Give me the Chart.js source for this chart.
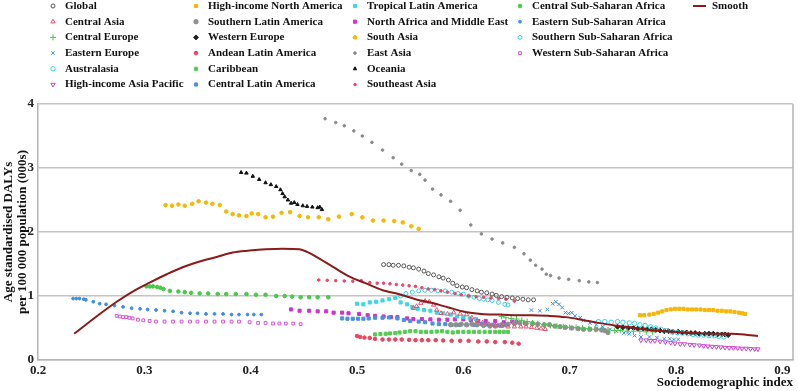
<!DOCTYPE html>
<html>
<head>
<meta charset="utf-8">
<script src="https://cdn.jsdelivr.net/npm/chart.js@4.4.0/dist/chart.umd.min.js"></script>
<style>
  html, body { margin: 0; padding: 0; background: #fff; }
</style>
</head>
<body>
<canvas id="chart" width="798" height="391"></canvas>
<script>
// values: [SDI, DALYs (000s)]
const globalPts = [[0.525,1.49],[0.530,1.49],[0.534,1.48],[0.539,1.48],[0.544,1.47],[0.549,1.45],[0.553,1.44],[0.558,1.42],[0.563,1.39],[0.567,1.35],[0.572,1.33],[0.577,1.30],[0.581,1.28],[0.586,1.25],[0.590,1.20],[0.594,1.16],[0.599,1.14],[0.603,1.13],[0.608,1.10],[0.613,1.08],[0.617,1.06],[0.622,1.05],[0.627,1.03],[0.631,1.01],[0.636,0.99],[0.641,0.98],[0.646,0.97],[0.651,0.96],[0.656,0.95],[0.661,0.94],[0.666,0.94]];
const centralAsiaPts = [[0.553,0.81],[0.556,0.84],[0.560,0.89],[0.564,0.92],[0.568,0.91],[0.572,0.86],[0.575,0.78],[0.579,0.73],[0.585,0.72],[0.591,0.74],[0.597,0.72],[0.603,0.71],[0.608,0.66],[0.613,0.61],[0.618,0.58],[0.624,0.56],[0.630,0.54],[0.636,0.53],[0.642,0.52],[0.648,0.52],[0.654,0.52],[0.659,0.52],[0.664,0.51],[0.669,0.50],[0.673,0.49],[0.677,0.48]];
const centralEuropePts = [[0.636,0.68],[0.640,0.66],[0.645,0.65],[0.650,0.64],[0.655,0.62],[0.660,0.60],[0.665,0.58],[0.670,0.57],[0.676,0.55],[0.682,0.54],[0.688,0.53],[0.694,0.52],[0.700,0.51],[0.706,0.51],[0.712,0.50],[0.718,0.49],[0.724,0.48],[0.730,0.48],[0.736,0.47],[0.742,0.46],[0.748,0.46],[0.754,0.45],[0.760,0.45],[0.766,0.45],[0.772,0.44],[0.778,0.44]];
const easternEuropePts = [[0.664,0.78],[0.672,0.77],[0.679,0.79],[0.684,0.88],[0.687,0.91],[0.690,0.87],[0.693,0.82],[0.696,0.74],[0.699,0.73],[0.702,0.74],[0.705,0.69],[0.710,0.66],[0.713,0.62],[0.719,0.58],[0.725,0.55],[0.731,0.52],[0.738,0.48],[0.744,0.45],[0.751,0.42],[0.756,0.41],[0.761,0.38],[0.767,0.36],[0.775,0.36],[0.782,0.35],[0.789,0.33],[0.794,0.33],[0.798,0.32],[0.802,0.32]];
const australasiaPts = [[0.727,0.60],[0.733,0.60],[0.739,0.59],[0.745,0.60],[0.750,0.59],[0.756,0.58],[0.761,0.57],[0.766,0.55],[0.771,0.54],[0.776,0.52],[0.781,0.50],[0.786,0.48],[0.791,0.46],[0.796,0.44],[0.801,0.43],[0.806,0.42],[0.811,0.41],[0.816,0.40],[0.821,0.39],[0.826,0.39],[0.831,0.38],[0.836,0.38],[0.840,0.37],[0.845,0.36]];
const hiAsiaPacificPts = [[0.767,0.31],[0.772,0.31],[0.776,0.30],[0.780,0.30],[0.785,0.29],[0.790,0.28],[0.795,0.27],[0.799,0.26],[0.804,0.25],[0.808,0.25],[0.813,0.24],[0.817,0.235],[0.822,0.23],[0.826,0.22],[0.830,0.215],[0.834,0.21],[0.838,0.205],[0.842,0.20],[0.846,0.195],[0.850,0.19],[0.854,0.19],[0.858,0.185],[0.862,0.18],[0.866,0.18],[0.870,0.175],[0.874,0.17],[0.877,0.17]];
const hiNorthAmericaPts = [[0.766,0.70],[0.770,0.70],[0.775,0.71],[0.779,0.72],[0.783,0.74],[0.787,0.76],[0.791,0.78],[0.795,0.79],[0.799,0.80],[0.803,0.80],[0.807,0.80],[0.811,0.79],[0.815,0.79],[0.819,0.79],[0.823,0.79],[0.827,0.78],[0.831,0.78],[0.835,0.78],[0.839,0.77],[0.843,0.77],[0.847,0.76],[0.851,0.76],[0.855,0.75],[0.859,0.74],[0.862,0.73],[0.865,0.72]];
const southernLatAmPts = [[0.588,0.55],[0.593,0.55],[0.598,0.56],[0.603,0.55],[0.608,0.56],[0.613,0.55],[0.619,0.54],[0.625,0.53],[0.630,0.53],[0.636,0.55],[0.642,0.56],[0.648,0.57],[0.653,0.58],[0.659,0.57],[0.665,0.57],[0.670,0.56],[0.676,0.55],[0.681,0.55],[0.686,0.53],[0.691,0.52],[0.696,0.51],[0.702,0.50],[0.708,0.49],[0.713,0.48],[0.719,0.48],[0.725,0.48],[0.730,0.47],[0.733,0.46],[0.736,0.43]];
const westernEuropePts = [[0.745,0.52],[0.750,0.51],[0.755,0.50],[0.760,0.50],[0.764,0.49],[0.769,0.49],[0.773,0.48],[0.777,0.48],[0.781,0.47],[0.785,0.46],[0.789,0.45],[0.793,0.45],[0.797,0.44],[0.802,0.44],[0.806,0.43],[0.810,0.43],[0.814,0.42],[0.818,0.42],[0.822,0.41],[0.827,0.41],[0.831,0.41],[0.835,0.41],[0.839,0.40],[0.843,0.40],[0.846,0.40],[0.849,0.39]];
const andeanLatAmPts = [[0.500,0.375],[0.503,0.36],[0.507,0.35],[0.512,0.345],[0.517,0.33],[0.524,0.32],[0.530,0.32],[0.536,0.32],[0.542,0.32],[0.549,0.315],[0.555,0.31],[0.561,0.31],[0.567,0.31],[0.574,0.31],[0.581,0.305],[0.589,0.30],[0.597,0.30],[0.605,0.30],[0.614,0.29],[0.622,0.29],[0.630,0.28],[0.639,0.28],[0.646,0.27],[0.652,0.255]];
const caribbeanPts = [[0.517,0.40],[0.522,0.405],[0.527,0.41],[0.531,0.415],[0.536,0.42],[0.540,0.43],[0.545,0.44],[0.550,0.45],[0.555,0.45],[0.560,0.44],[0.565,0.44],[0.570,0.44],[0.575,0.445],[0.580,0.45],[0.585,0.44],[0.590,0.43],[0.595,0.44],[0.600,0.44],[0.605,0.44],[0.610,0.44],[0.615,0.44],[0.620,0.44],[0.625,0.44],[0.630,0.44],[0.634,0.44],[0.638,0.44],[0.642,0.44]];
const centralLatAmPts = [[0.486,0.65],[0.491,0.645],[0.496,0.645],[0.501,0.645],[0.506,0.645],[0.511,0.65],[0.517,0.66],[0.524,0.66],[0.530,0.665],[0.538,0.65],[0.544,0.625],[0.550,0.61],[0.558,0.60],[0.564,0.59],[0.571,0.57],[0.577,0.56],[0.583,0.56],[0.589,0.55],[0.596,0.55],[0.603,0.55],[0.610,0.55],[0.617,0.56],[0.622,0.555],[0.627,0.55],[0.633,0.54],[0.639,0.55]];
const tropicalLatAmPts = [[0.500,0.88],[0.506,0.87],[0.512,0.90],[0.518,0.91],[0.524,0.93],[0.530,0.95],[0.536,0.97],[0.541,0.90],[0.547,0.87],[0.552,0.83],[0.557,0.80],[0.563,0.78],[0.569,0.77],[0.575,0.74],[0.581,0.73],[0.588,0.71],[0.594,0.68],[0.600,0.67],[0.606,0.65],[0.612,0.64]];
const northAfricaMEPts = [[0.438,0.79],[0.446,0.77],[0.455,0.77],[0.463,0.76],[0.471,0.76],[0.478,0.74],[0.486,0.74],[0.492,0.73],[0.502,0.72],[0.510,0.70],[0.517,0.69],[0.525,0.68],[0.532,0.67],[0.538,0.67],[0.547,0.65],[0.553,0.64],[0.561,0.64],[0.569,0.635],[0.577,0.63],[0.585,0.63],[0.592,0.635],[0.600,0.635],[0.607,0.62],[0.614,0.61],[0.621,0.61],[0.630,0.61],[0.638,0.59],[0.646,0.60],[0.650,0.59],[0.658,0.58]];
const southAsiaPts = [[0.320,2.42],[0.326,2.41],[0.332,2.43],[0.338,2.41],[0.345,2.44],[0.351,2.48],[0.358,2.46],[0.364,2.44],[0.371,2.42],[0.377,2.32],[0.383,2.28],[0.389,2.26],[0.396,2.25],[0.401,2.29],[0.407,2.28],[0.414,2.23],[0.421,2.24],[0.429,2.30],[0.437,2.31],[0.446,2.25],[0.454,2.23],[0.464,2.23],[0.473,2.20],[0.483,2.24],[0.495,2.28],[0.505,2.23],[0.515,2.18],[0.525,2.18],[0.535,2.17],[0.543,2.15],[0.551,2.09],[0.558,2.05]];
const eastAsiaPts = [[0.470,3.77],[0.480,3.71],[0.488,3.66],[0.497,3.58],[0.505,3.50],[0.514,3.40],[0.524,3.28],[0.534,3.16],[0.542,3.06],[0.551,2.96],[0.559,2.90],[0.564,2.81],[0.571,2.67],[0.579,2.58],[0.588,2.48],[0.597,2.34],[0.607,2.11],[0.617,1.97],[0.627,1.89],[0.637,1.83],[0.648,1.76],[0.657,1.66],[0.663,1.56],[0.668,1.48],[0.674,1.42],[0.678,1.34],[0.682,1.32],[0.690,1.28],[0.699,1.26],[0.709,1.24],[0.718,1.22],[0.726,1.21]];
const oceaniaPts = [[0.391,2.93],[0.396,2.92],[0.402,2.87],[0.408,2.82],[0.414,2.77],[0.419,2.74],[0.424,2.71],[0.428,2.66],[0.430,2.60],[0.432,2.55],[0.435,2.50],[0.438,2.45],[0.441,2.46],[0.444,2.43],[0.449,2.41],[0.453,2.40],[0.458,2.39],[0.463,2.38],[0.465,2.39],[0.467,2.35]];
const southeastAsiaPts = [[0.464,1.25],[0.472,1.245],[0.480,1.24],[0.488,1.235],[0.496,1.23],[0.504,1.24],[0.512,1.21],[0.519,1.20],[0.525,1.20],[0.531,1.19],[0.537,1.18],[0.543,1.17],[0.549,1.16],[0.555,1.15],[0.561,1.13],[0.567,1.11],[0.573,1.10],[0.579,1.08],[0.585,1.06],[0.592,1.04],[0.598,1.02],[0.605,1.00],[0.612,0.99],[0.619,0.98],[0.626,0.97],[0.633,0.96],[0.640,0.95],[0.648,0.92]];
const centralSSAPts = [[0.302,1.15],[0.305,1.15],[0.308,1.15],[0.312,1.14],[0.315,1.13],[0.318,1.11],[0.324,1.08],[0.332,1.07],[0.338,1.06],[0.344,1.05],[0.352,1.04],[0.360,1.04],[0.369,1.03],[0.377,1.03],[0.386,1.03],[0.396,1.03],[0.405,1.02],[0.414,1.02],[0.424,1.00],[0.432,1.00],[0.439,0.99],[0.447,0.98],[0.455,0.98],[0.463,0.98],[0.473,0.98]];
const easternSSAPts = [[0.233,0.96],[0.236,0.96],[0.239,0.96],[0.243,0.95],[0.245,0.94],[0.252,0.91],[0.258,0.88],[0.264,0.87],[0.272,0.85],[0.280,0.83],[0.288,0.81],[0.296,0.80],[0.303,0.79],[0.311,0.78],[0.319,0.77],[0.327,0.76],[0.335,0.74],[0.343,0.73],[0.350,0.73],[0.358,0.72],[0.366,0.72],[0.374,0.72],[0.382,0.71],[0.389,0.71],[0.397,0.71],[0.403,0.71],[0.410,0.71]];
const southernSSAPts = [[0.541,1.00],[0.546,1.04],[0.552,1.06],[0.558,1.08],[0.564,1.09],[0.570,1.09],[0.576,1.08],[0.583,1.08],[0.589,1.06],[0.595,1.04],[0.600,1.03],[0.605,1.00],[0.610,0.98],[0.615,0.96],[0.619,0.95],[0.623,0.94],[0.627,0.93],[0.633,0.90],[0.639,0.87],[0.642,0.86]];
const westernSSAPts = [[0.274,0.69],[0.277,0.68],[0.280,0.67],[0.283,0.67],[0.286,0.66],[0.289,0.65],[0.294,0.63],[0.299,0.62],[0.305,0.61],[0.311,0.60],[0.319,0.60],[0.327,0.60],[0.335,0.60],[0.343,0.60],[0.350,0.60],[0.358,0.60],[0.366,0.60],[0.374,0.60],[0.382,0.60],[0.389,0.60],[0.399,0.59],[0.407,0.58],[0.414,0.58],[0.421,0.57],[0.427,0.57],[0.433,0.57],[0.440,0.57],[0.447,0.56]];
const smoothPts = [[0.234,0.41],[0.255,0.68],[0.274,0.91],[0.289,1.07],[0.305,1.21],[0.321,1.34],[0.336,1.45],[0.352,1.54],[0.368,1.61],[0.383,1.68],[0.399,1.71],[0.414,1.73],[0.430,1.74],[0.446,1.73],[0.453,1.69],[0.461,1.62],[0.477,1.46],[0.492,1.31],[0.508,1.20],[0.524,1.09],[0.539,1.03],[0.555,0.95],[0.571,0.89],[0.586,0.82],[0.602,0.75],[0.617,0.72],[0.633,0.71],[0.649,0.70],[0.664,0.70],[0.680,0.69],[0.696,0.67],[0.711,0.63],[0.727,0.58],[0.742,0.54],[0.758,0.51],[0.774,0.47],[0.789,0.45],[0.805,0.43],[0.820,0.42],[0.836,0.41],[0.852,0.41],[0.864,0.40],[0.877,0.375]];

const xTicks = [0.2, 0.3, 0.4, 0.5, 0.6, 0.7, 0.8, 0.9];
const yTicks = [0, 1, 2, 3, 4];

const SERIF = "'Liberation Serif', 'Times New Roman', serif";

function marker(label, data, color, style, open, radius, rotation) {
  return {
    label, data,
    pointStyle: style,
    pointRadius: radius || 2,
    pointRotation: rotation || 0,
    pointBorderWidth: 1,
    borderWidth: 1,
    borderColor: color,
    backgroundColor: open ? 'rgba(0,0,0,0)' : color,
    showLine: false,
  };
}

const datasets = [
  marker('Global', globalPts, '#555555', 'circle', true, 2),
  marker('Central Asia', centralAsiaPts, '#e8506a', 'triangle', true, 2.5),
  marker('Central Europe', centralEuropePts, '#4cc24c', 'cross', false, 3),
  marker('Eastern Europe', easternEuropePts, '#3b8ee8', 'crossRot', false, 2.5),
  marker('Australasia', australasiaPts, '#33d4e4', 'circle', true, 2.2),
  marker('High-income Asia Pacific', hiAsiaPacificPts, '#cc44cc', 'triangle', true, 2.5, 180),
  marker('High-income North America', hiNorthAmericaPts, '#f5b50a', 'rect', false, 2.2),
  marker('Southern Latin America', southernLatAmPts, '#8f8f8f', 'circle', false, 2.2),
  marker('Western Europe', westernEuropePts, '#222222', 'rectRot', false, 2.5),
  marker('Andean Latin America', andeanLatAmPts, '#e8455f', 'circle', false, 1.8),
  marker('Caribbean', caribbeanPts, '#55c955', 'rect', false, 2.2),
  marker('Central Latin America', centralLatAmPts, '#4a90e2', 'rect', false, 2.2),
  marker('Tropical Latin America', tropicalLatAmPts, '#38d8e6', 'rect', false, 2.2),
  marker('North Africa and Middle East', northAfricaMEPts, '#c935c9', 'rect', false, 2.2),
  marker('South Asia', southAsiaPts, '#f5b800', 'circle', false, 1.8),
  marker('East Asia', eastAsiaPts, '#8a8a8a', 'circle', false, 1.3),
  marker('Oceania', oceaniaPts, '#111111', 'triangle', false, 2),
  marker('Southeast Asia', southeastAsiaPts, '#ee4466', 'circle', false, 1.3),
  marker('Central Sub-Saharan Africa', centralSSAPts, '#47c947', 'circle', false, 1.8),
  marker('Eastern Sub-Saharan Africa', easternSSAPts, '#3a8ce8', 'circle', false, 1.4),
  marker('Southern Sub-Saharan Africa', southernSSAPts, '#33d0e0', 'circle', true, 2),
  marker('Western Sub-Saharan Africa', westernSSAPts, '#d656d6', 'rect', true, 2),
  {
    label: 'Smooth', data: smoothPts, showLine: true, pointRadius: 0,
    borderColor: '#8b1a1a', backgroundColor: '#8b1a1a', borderWidth: 2,
    cubicInterpolationMode: 'monotone', order: -1, isSmooth: true,
  },
];

// legend in 5 columns, drawn on the canvas like the original
const legendPlugin = {
  id: 'gridLegend',
  afterDraw(chart) {
    const ctx = chart.ctx;
    const cols = [53, 196, 355, 520];
    ctx.save();
    ctx.font = 'bold 11px ' + SERIF;
    ctx.textBaseline = 'middle';
    ctx.textAlign = 'left';
    chart.data.datasets.forEach((ds, i) => {
      if (ds.isSmooth) {
        ctx.strokeStyle = ds.borderColor;
        ctx.lineWidth = 2;
        ctx.beginPath();
        ctx.moveTo(693, 6);
        ctx.lineTo(706, 6);
        ctx.stroke();
        ctx.fillStyle = '#111';
        ctx.fillText(ds.label, 712, 6);
        return;
      }
      const x = cols[Math.floor(i / 6)];
      const y = 6 + (i % 6) * 15.7;
      ctx.fillStyle = ds.backgroundColor;
      ctx.strokeStyle = ds.borderColor;
      ctx.lineWidth = 1;
      Chart.helpers.drawPoint(ctx, {
        pointStyle: ds.pointStyle, radius: ds.pointRadius,
        rotation: ds.pointRotation, borderWidth: 1,
      }, x, y);
      ctx.fillStyle = '#111';
      ctx.fillText(ds.label, x + 12, y);
    });
    const a = chart.chartArea;
    ctx.strokeStyle = '#b4b4b4';
    ctx.lineWidth = 1.5;
    ctx.beginPath();
    ctx.moveTo(a.right, a.top);
    ctx.lineTo(a.right, a.bottom);
    ctx.stroke();
    ctx.restore();
  }
};

new Chart(document.getElementById('chart'), {
  type: 'scatter',
  data: { datasets },
  options: {
    responsive: false,
    animation: false,
    layout: { padding: { top: 104, right: 3, left: 0, bottom: 0 } },
    plugins: { legend: { display: false }, tooltip: { enabled: false } },
    scales: {
      x: {
        type: 'linear', min: 0.2, max: 0.91,
        afterFit(scale) { scale.height = 31; },
        afterBuildTicks(scale) { scale.ticks = xTicks.map(v => ({ value: v })); },
        grid: { display: false, drawTicks: false },
        border: { display: true, color: '#b4b4b4', width: 1.5 },
        ticks: {
          padding: 3, color: '#222',
          font: { family: SERIF, size: 13, weight: 'bold' },
          callback: v => v.toFixed(1),
        },
        title: {
          display: true, text: 'Sociodemographic index', align: 'end',
          color: '#111', padding: { top: 0, bottom: 1 },
          font: { family: SERIF, size: 13, weight: 'bold', lineHeight: 1.15 },
        },
      },
      y: {
        min: 0, max: 4,
        afterFit(scale) { scale.width = 38; },
        afterBuildTicks(scale) { scale.ticks = yTicks.map(v => ({ value: v })); },
        grid: { color: '#c4c4c4', lineWidth: 1.5, drawTicks: false },
        border: { display: true, color: '#b4b4b4', width: 1.5 },
        ticks: {
          padding: 4, color: '#222',
          font: { family: SERIF, size: 13, weight: 'bold' },
        },
        title: {
          display: true, text: ['Age standardised DALYs', 'per 100 000 population (000s)'],
          color: '#111', padding: { top: 2, bottom: 0 },
          font: { family: SERIF, size: 13, weight: 'bold', lineHeight: 1.08 },
        },
      },
    },
  },
  plugins: [legendPlugin],
});
</script>
</body>
</html>
